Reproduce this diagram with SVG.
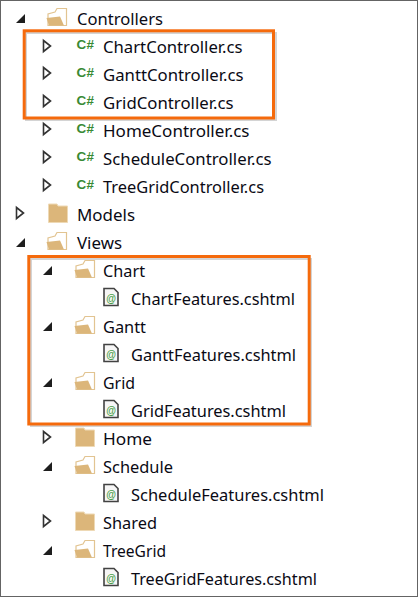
<svg xmlns="http://www.w3.org/2000/svg" width="418" height="597" viewBox="0 0 418 597">
<style>
text{font-family:"Noto Sans","Open Sans","Liberation Sans",sans-serif;font-size:16.500px;fill:#0a0a14}
.cs{font-family:"Liberation Sans",sans-serif;font-size:13.500px;font-weight:700;fill:#388a34;letter-spacing:0.300px}
.box{fill:none;stroke:#f56a0c;stroke-width:3}
.shadow{fill:none;stroke:#d4d4d4;stroke-width:2}
</style>
<defs>
<path id="exp" d="M-5 5 L4 5 L4 -4 Z" fill="#1e1e1e"/>
<path id="col" d="M-3.500 -5.500 L3.500 0 L-3.500 5.500 Z" fill="#fff" stroke="#333" stroke-width="1.600"/>
<g id="fo"><path d="M-9 -3 L-9 8.500 L9.500 8.500 L9.500 -8.500 L0 -8.500 L-2 -5 Z" fill="#fff" stroke="#e2c491" stroke-width="1.200"/><path d="M-10.500 1 L3 -0.500 L7 8.500 L-8 8.500 Z" fill="#dcb67a"/></g>
<g id="fc"><path d="M-9.500 -9 L-1 -9 L0 -7 L9.500 -7 L9.500 9.500 L-9.500 9.500 Z" fill="#dcb67a" stroke="#eed9b5" stroke-width="1"/></g>
<g id="cshtml"><path d="M-7 -8.500 L3 -8.500 L7 -4.500 L7 8.500 L-7 8.500 Z" fill="#f6f6f6" stroke="#424242" stroke-width="1.600"/><text x="0" y="4.500" text-anchor="middle" style="font-size:10px;font-family:'Liberation Sans',sans-serif;font-weight:700;fill:#4aa04a">@</text></g>
</defs>
<rect x="0.500" y="0.500" width="417" height="596" fill="#fff" stroke="#646464"/>
<g id="connectors"></g>
<g id="controllers"><use href="#exp" x="21" y="18"/><use href="#fo" x="57" y="17"/><text x="77" y="25" textLength="86" lengthAdjust="spacingAndGlyphs">Controllers</text></g>
<g id="chart-controller"><use href="#col" x="47" y="46"/><text class="cs" x="76.500" y="49">C#</text><text x="103" y="53" textLength="139.500" lengthAdjust="spacingAndGlyphs">ChartController.cs</text></g>
<g id="gantt-controller"><use href="#col" x="47" y="73"/><text class="cs" x="76.500" y="77">C#</text><text x="103" y="81" textLength="140.500" lengthAdjust="spacingAndGlyphs">GanttController.cs</text></g>
<g id="grid-controller"><use href="#col" x="47" y="101"/><text class="cs" x="76.500" y="105">C#</text><text x="103" y="109" textLength="130.500" lengthAdjust="spacingAndGlyphs">GridController.cs</text></g>
<g id="home-controller"><use href="#col" x="47" y="129"/><text class="cs" x="76.500" y="133">C#</text><text x="103" y="137" textLength="146.500" lengthAdjust="spacingAndGlyphs">HomeController.cs</text></g>
<g id="schedule-controller"><use href="#col" x="47" y="157"/><text class="cs" x="76.500" y="161">C#</text><text x="103" y="165" textLength="168.500" lengthAdjust="spacingAndGlyphs">ScheduleController.cs</text></g>
<g id="treegrid-controller"><use href="#col" x="47" y="185"/><text class="cs" x="76.500" y="189">C#</text><text x="103" y="193" textLength="161" lengthAdjust="spacingAndGlyphs">TreeGridController.cs</text></g>
<g id="models"><use href="#col" x="20" y="213"/><use href="#fc" x="58" y="213"/><text x="77" y="221" textLength="58" lengthAdjust="spacingAndGlyphs">Models</text></g>
<g id="views"><use href="#exp" x="21" y="242"/><use href="#fo" x="57" y="241"/><text x="77" y="249" textLength="45" lengthAdjust="spacingAndGlyphs">Views</text></g>
<g id="chart"><use href="#exp" x="48" y="270"/><use href="#fo" x="85" y="269"/><text x="103" y="277" textLength="42" lengthAdjust="spacingAndGlyphs">Chart</text></g>
<g id="chart-features"><use href="#cshtml" x="111" y="297"/><text x="131" y="305" textLength="164" lengthAdjust="spacingAndGlyphs">ChartFeatures.cshtml</text></g>
<g id="gantt"><use href="#exp" x="48" y="326"/><use href="#fo" x="85" y="325"/><text x="103" y="333" textLength="43" lengthAdjust="spacingAndGlyphs">Gantt</text></g>
<g id="gantt-features"><use href="#cshtml" x="111" y="353"/><text x="131" y="361" textLength="165" lengthAdjust="spacingAndGlyphs">GanttFeatures.cshtml</text></g>
<g id="grid"><use href="#exp" x="48" y="382"/><use href="#fo" x="85" y="381"/><text x="103" y="389" textLength="32" lengthAdjust="spacingAndGlyphs">Grid</text></g>
<g id="grid-features"><use href="#cshtml" x="111" y="409"/><text x="131" y="417" textLength="155" lengthAdjust="spacingAndGlyphs">GridFeatures.cshtml</text></g>
<g id="home"><use href="#col" x="47" y="437"/><use href="#fc" x="85" y="437"/><text x="103" y="445" textLength="49" lengthAdjust="spacingAndGlyphs">Home</text></g>
<g id="schedule"><use href="#exp" x="48" y="466"/><use href="#fo" x="85" y="465"/><text x="103" y="473" textLength="70" lengthAdjust="spacingAndGlyphs">Schedule</text></g>
<g id="schedule-features"><use href="#cshtml" x="111" y="493"/><text x="131" y="501" textLength="193" lengthAdjust="spacingAndGlyphs">ScheduleFeatures.cshtml</text></g>
<g id="shared"><use href="#col" x="47" y="521"/><use href="#fc" x="85" y="521"/><text x="103" y="529" textLength="54" lengthAdjust="spacingAndGlyphs">Shared</text></g>
<g id="treegrid"><use href="#exp" x="48" y="550"/><use href="#fo" x="85" y="549"/><text x="103" y="557" textLength="63" lengthAdjust="spacingAndGlyphs">TreeGrid</text></g>
<g id="treegrid-features"><use href="#cshtml" x="111" y="577"/><text x="131" y="585" textLength="186" lengthAdjust="spacingAndGlyphs">TreeGridFeatures.cshtml</text></g>
<g id="highlights">
<rect class="shadow" x="26" y="33" width="250" height="87"/>
<rect class="shadow" x="31" y="259" width="280" height="167"/>
<rect class="box" x="24.200" y="30.800" width="249.300" height="87.200"/>
<rect class="box" x="28.800" y="256.500" width="280.400" height="167.500"/>
</g>
</svg>
